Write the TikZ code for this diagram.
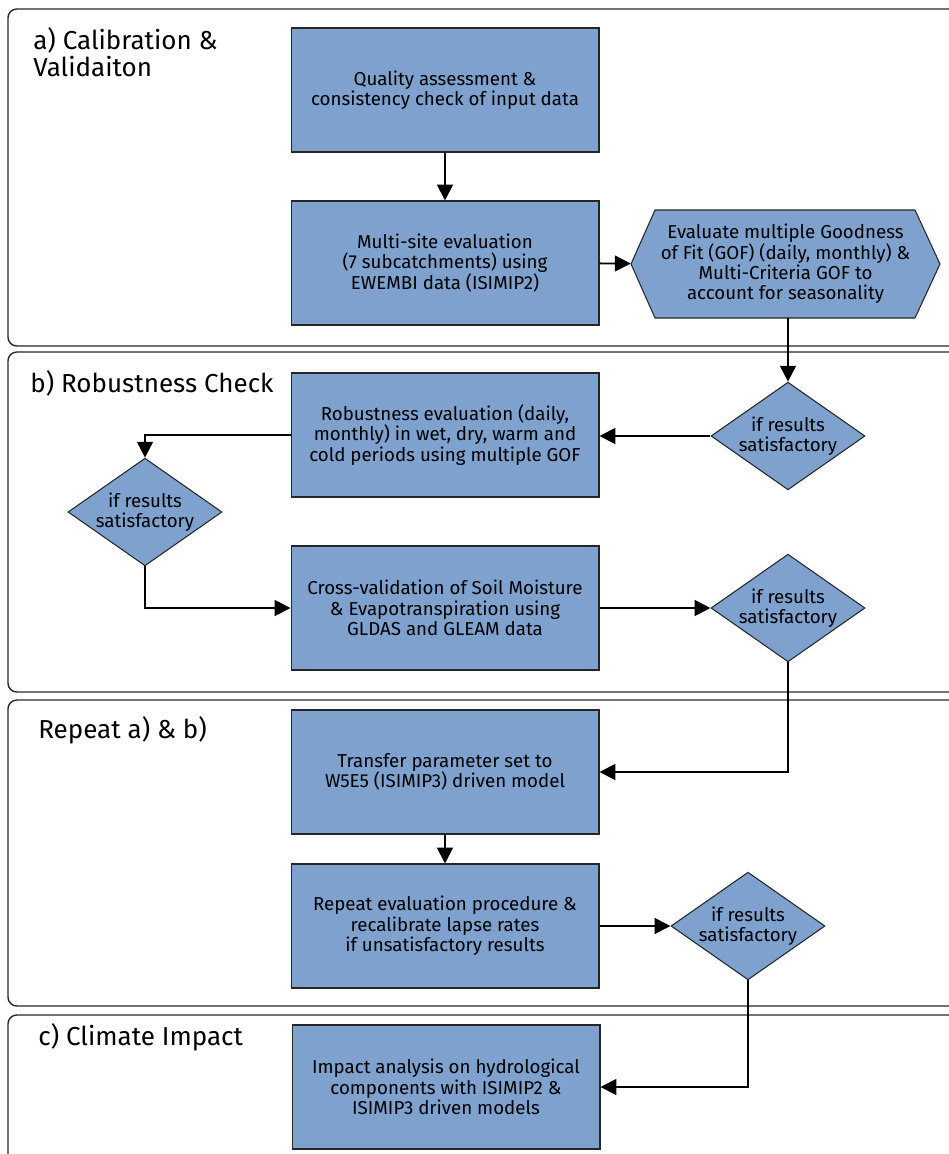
\documentclass[tikz,border=0pt]{standalone}
\usepackage{fontspec}
\setmainfont{Fira Sans}
\usepackage{tikz}
\usetikzlibrary{shapes.geometric, arrows.meta, positioning}
\definecolor{boxblue}{RGB}{126,161,206}
\tikzstyle{process} = [rectangle, draw=black!85, line width=0.6pt, fill=boxblue, minimum width=6.16cm, minimum height=2.48cm, align=center, font=\fontsize{10.65}{11.6}\selectfont]
\tikzstyle{decision} = [diamond, draw=black!85, line width=0.6pt, fill=boxblue, minimum width=3.04cm, minimum height=2.12cm, inner sep=0pt, shape aspect=1.43, align=center, font=\fontsize{10.65}{11.6}\selectfont]
\tikzstyle{hexa} = [rectangle, minimum width=6.18cm, minimum height=2.16cm, align=center, font=\fontsize{10.65}{11.6}\selectfont]
\tikzstyle{panel} = [draw=black!85, line width=0.8pt, rounded corners=5pt]
\tikzstyle{title} = [anchor=west, inner sep=0pt, align=left, font=\fontsize{14.8}{15.6}\selectfont]
\tikzstyle{arrow} = [line width=1.1pt, -{Triangle[length=9pt, width=9pt]}]

\begin{document}
\begin{tikzpicture}[x=0.02cm, y=-0.02cm]
    \clip (0,0) rectangle (949,1154);
    % panels
    \draw[panel] (8,9) rectangle (990,346);
    \draw[panel] (8,352) rectangle (990,692);
    \draw[panel] (8,700) rectangle (990,1006);
    \draw[panel] (8,1015) rectangle (990,1190);
    \node[title] (ta) at (33,52) {a) Calibration \&\\Validaiton};
    \node[title] (tb) at (30,383) {b) Robustness Check};
    \node[title] (tr) at (38,730) {Repeat a) \& b)};
    \node[title] (tc) at (38,1037) {c) Climate Impact};
    % boxes
    \node[process] (qual) at (445,90) {Quality assessment \&\\consistency check of input data};
    \node[process] (multi) at (445,263) {Multi-site evaluation\\(7 subcatchments) using\\EWEMBI data (ISIMIP2)};
    \filldraw[draw=black!85, line width=0.6pt, fill=boxblue] (631,264) -- (655,210) -- (915,210) -- (940,264) -- (915,318) -- (655,318) -- cycle;
    \node[hexa] (gof) at (785.5,264) {Evaluate multiple Goodness\\of Fit (GOF) (daily, monthly) \&\\Multi-Criteria GOF to\\account for seasonality};
    \node[decision] (dec1) at (788,436) {if results\\satisfactory};
    \node[process] (robust) at (445,435) {Robustness evaluation (daily,\\monthly) in wet, dry, warm and\\cold periods using multiple GOF};
    \node[decision] (dec2) at (145,512) {if results\\satisfactory};
    \node[process] (cross) at (445,608) {Cross-validation of Soil Moisture\\\& Evapotranspiration using\\GLDAS and GLEAM data};
    \node[decision] (dec3) at (788,608) {if results\\satisfactory};
    \node[process] (transfer) at (445,772) {Transfer parameter set to\\W5E5 (ISIMIP3) driven model};
    \node[process] (repeat) at (445,926) {Repeat evaluation procedure \&\\recalibrate lapse rates\\if unsatisfactory results};
    \node[decision] (dec4) at (748,926) {if results\\satisfactory};
    \node[process] (impact) at (446,1087) {Impact analysis on hydrological\\components with ISIMIP2 \&\\ISIMIP3 driven models};
    % connectors
    \draw[arrow] (qual) -- (multi);
    \draw[arrow] (multi) -- (gof);
    \draw[arrow] (dec1.north |- gof.south) -- (dec1.north);
    \draw[arrow] (dec1.west) -- (dec1.west -| robust.east);
    \draw[arrow] (robust.west) -| (dec2.north);
    \draw[arrow] (dec2.south) |- (cross.west);
    \draw[arrow] (cross.east) -- (dec3.west);
    \draw[arrow] (dec3.south) |- (transfer.east);
    \draw[arrow] (transfer) -- (repeat);
    \draw[arrow] (repeat.east) -- (dec4.west);
    \draw[arrow] (dec4.south) |- (impact.east);
\end{tikzpicture}
\end{document}
